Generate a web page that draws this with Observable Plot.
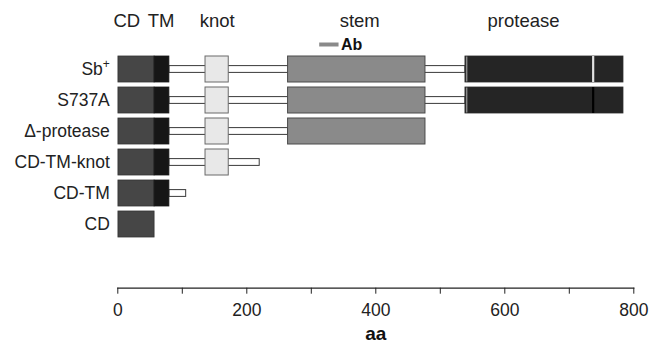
<!DOCTYPE html>
<html>
<head>
<meta charset="utf-8">
<script src="https://cdn.jsdelivr.net/npm/d3@7"></script>
<script src="https://cdn.jsdelivr.net/npm/@observablehq/plot@0.6"></script>
<style>
  html, body { margin: 0; padding: 0; background: #fff; }
  #chart svg { display: block; font-family: "Liberation Sans", Arial, Helvetica, sans-serif; }
</style>
</head>
<body>
<div id="chart"></div>
<script>
// ---- data (amino-acid positions) ----
const rows = ["Sb+", "S737A", "Δ-protease", "CD-TM-knot", "CD-TM", "CD"];
const cdRange = [1, 57];
const tmRange = [57, 80];
const linkerEnds = [539, 539, 264, 220, 106, null];   // linker from TM end
const knotRange = [136, 172];
const knotRows = ["Sb+", "S737A", "Δ-protease", "CD-TM-knot"];
const stemRange = [264, 477];
const stemRows = ["Sb+", "S737A", "Δ-protease"];
const proteaseRange = [539, 784];
const proteaseRows = ["Sb+", "S737A"];
const siteRows = ["Sb+", "S737A"];
const siteX = [737, 737];
const siteColors = ["#e2e2e2", "#000000"];
const domainLabels = ["CD", "TM", "knot", "stem", "protease"];
const domainLabelX = [14, 67, 154, 375, 629];
const abRange = [313, 343];
const xTicks = [0, 100, 200, 300, 400, 500, 600, 700, 800];
const xTickLabels = [0, 200, 400, 600, 800];

// ---- tables ----
const cdData = rows.map(r => ({row: r, x1: cdRange[0], x2: cdRange[1]}));
const tmData = rows.filter((r, i) => i < 5).map(r => ({row: r, x1: tmRange[0], x2: tmRange[1]}));
const linkerData = rows.map((r, i) => ({row: r, x1: tmRange[1], x2: linkerEnds[i]})).filter(d => d.x2 != null);
const knotData = knotRows.map(r => ({row: r, x1: knotRange[0], x2: knotRange[1]}));
const stemData = stemRows.map(r => ({row: r, x1: stemRange[0], x2: stemRange[1]}));
const proteaseData = proteaseRows.map(r => ({row: r, x1: proteaseRange[0], x2: proteaseRange[1]}));
const siteData = siteRows.map((r, i) => ({row: r, x: siteX[i], color: siteColors[i]}));
const labelData = domainLabels.map((t, i) => ({text: t, x: domainLabelX[i]}));
const abData = [{row: rows[0], x1: abRange[0], x2: abRange[1]}];

const chart = Plot.plot({
  width: 662,
  height: 346,
  marginLeft: 117.3,
  marginRight: 28.7,
  marginTop: 0,
  marginBottom: 58.3,
  style: {fontFamily: "'Liberation Sans', Arial, sans-serif", background: "#fff", overflow: "visible"},
  x: {domain: [0, 800]},
  y: {type: "band", domain: rows, range: [55.5, 238], paddingInner: 0.17, paddingOuter: 0},
  marks: [
    // linkers (white bar with dark border)
    Plot.rectX(linkerData, {y: "row", x1: "x1", x2: "x2", fill: "#fff", stroke: "#3a3a3a", strokeWidth: 1, insetTop: 9.6, insetBottom: 9.6}),
    Plot.rectX(cdData, {y: "row", x1: "x1", x2: "x2", fill: "#464646", stroke: "#333", strokeWidth: 0.8}),
    Plot.rectX(tmData, {y: "row", x1: "x1", x2: "x2", fill: "#161616", stroke: "#161616", strokeWidth: 0.8}),
    Plot.rectX(knotData, {y: "row", x1: "x1", x2: "x2", fill: "#e8e8e8", stroke: "#6a6a6a", strokeWidth: 1}),
    Plot.rectX(stemData, {y: "row", x1: "x1", x2: "x2", fill: "#8a8a8a", stroke: "#4a4a4a", strokeWidth: 1}),
    Plot.rectX(proteaseData, {y: "row", x1: "x1", x2: "x2", fill: "#252525", stroke: "#2a2a2a", strokeWidth: 0.8}),
    Plot.tickX(proteaseData, {x: "x1", y: "row", stroke: "#8a8a8a", strokeWidth: 1.5, dx: 1.2, insetTop: 0.5, insetBottom: 0.5}),
    Plot.tickX(siteData, {x: "x", y: "row", stroke: d => d.color, strokeWidth: 2.2}),
    // antibody epitope
    Plot.ruleY(abData, {y: "row", x1: "x1", x2: "x2", stroke: "#8a8a8a", strokeWidth: 4, dy: -25}),
    Plot.text(abData, {y: "row", x: "x2", text: () => "Ab", dy: -25, dx: 2, textAnchor: "start", fontWeight: "bold", fontSize: 16, fill: "#111"}),
    // domain labels
    Plot.text(labelData, {x: "x", text: "text", frameAnchor: "top", dy: 13, fontSize: 18.5, fill: "#222"}),
    // axes
    Plot.axisY({tickSize: 0, tickPadding: 8, fontSize: 17.5, label: null, color: "#222"}),
    Plot.axisX({ticks: xTicks, tickSize: 6, tickPadding: 9, fontSize: 17.5, label: null, color: "#222",
      tickFormat: d => xTickLabels.includes(d) ? String(d) : ""}),
    Plot.frame({anchor: "bottom", stroke: "#222", strokeWidth: 1.2}),
    Plot.text(["aa"], {text: d => d, frameAnchor: "bottom", dy: 52, fontWeight: "bold", fontSize: 19, fill: "#111"})
  ]
});

document.getElementById("chart").appendChild(chart);

// superscript "+" in Sb+
d3.select(chart).selectAll("text").filter(function() { return this.textContent === "Sb+"; })
  .each(function() {
    const t = d3.select(this);
    t.text("Sb");
    t.append("tspan").attr("baseline-shift", "super").attr("font-size", "12").text("+");
  });
</script>
</body>
</html>
